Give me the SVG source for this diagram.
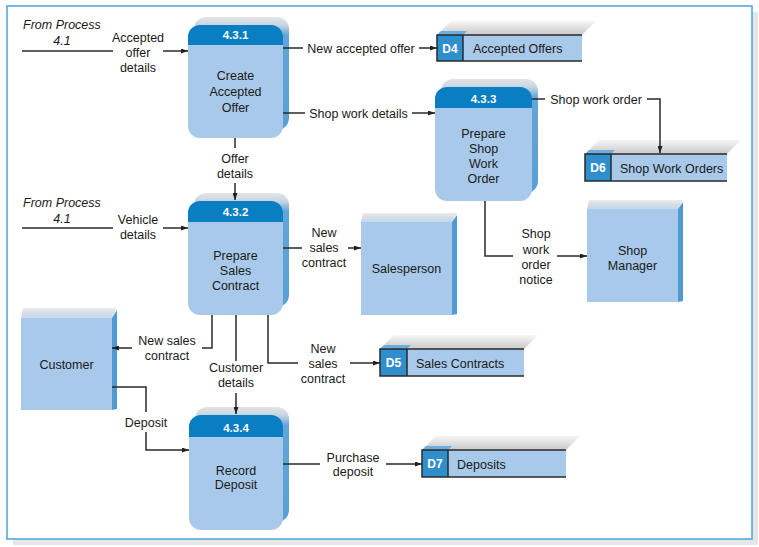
<svg xmlns="http://www.w3.org/2000/svg" width="759" height="547" viewBox="0 0 759 547">
<defs>
<linearGradient id="pside" x1="0" y1="0" x2="0" y2="1">
<stop offset="0" stop-color="#e4e4e4"/>
<stop offset="0.07" stop-color="#c9d6e2"/>
<stop offset="0.16" stop-color="#62a5d8"/>
<stop offset="1" stop-color="#5a9fd5"/>
</linearGradient>
<linearGradient id="etop" x1="0" y1="0" x2="0" y2="1">
<stop offset="0" stop-color="#ececec"/>
<stop offset="0.5" stop-color="#d6dde4"/>
<stop offset="1" stop-color="#c3daee"/>
</linearGradient>
<linearGradient id="stop" x1="0" y1="0" x2="0" y2="1">
<stop offset="0" stop-color="#f6f6f6"/>
<stop offset="1" stop-color="#c9c9c9"/>
</linearGradient>
<marker id="arr" viewBox="0 0 7 5" refX="7" refY="2.5" markerWidth="7" markerHeight="5" markerUnits="userSpaceOnUse" orient="auto">
<path d="M0,0 L7,2.5 L0,5 Z" fill="#222"/>
</marker>
</defs>
<style>
text{font-family:"Liberation Sans",Arial,sans-serif;font-size:12.5px;fill:#1a1a1a}
.c{text-anchor:middle}
.it{font-style:italic}
.hd{font-weight:bold;fill:#fff;font-size:11.5px;text-anchor:middle}
.body{fill:#a8c9e9}
.head{fill:#0a7ec2}
.pback{fill:url(#pside)}
.etop{fill:url(#etop)}
.eside{fill:#4f9ad3}
.stop{fill:url(#stop)}
.scell{fill:#2f8fcd}
.sline{fill:none;stroke:#2a2a2a;stroke-width:1.5}
.conn path{fill:none;stroke:#2a2a2a;stroke-width:1.5}
.conn path.a{marker-end:url(#arr)}
</style>
<rect width="759" height="547" fill="#fff"/>
<rect x="13" y="12" width="745" height="533" fill="#e6e6e6"/>
<rect x="7" y="6" width="745" height="533" fill="#fff" stroke="#4aa3dc" stroke-width="1.5"/>

<g id="p431">
<rect class="pback" x="194" y="17" width="95" height="113" rx="12"/>
<rect class="body" x="188" y="25" width="95" height="113" rx="12"/>
<path class="head" d="M188,45 V37 A12,12 0 0 1 200,25 H271 A12,12 0 0 1 283,37 V45 Z"/>
<text class="hd" x="235.5" y="39">4.3.1</text>
<text class="c" x="235.5" y="79.5">Create</text>
<text class="c" x="235.5" y="95.5">Accepted</text>
<text class="c" x="235.5" y="111.5">Offer</text>
</g>

<g id="p432">
<rect class="pback" x="194" y="193" width="95" height="114" rx="12"/>
<rect class="body" x="188" y="201" width="95" height="114" rx="12"/>
<path class="head" d="M188,222 V213 A12,12 0 0 1 200,201 H271 A12,12 0 0 1 283,213 V222 Z"/>
<text class="hd" x="235.5" y="216">4.3.2</text>
<text class="c" x="235.5" y="259.5">Prepare</text>
<text class="c" x="235.5" y="274.5">Sales</text>
<text class="c" x="235.5" y="289.5">Contract</text>
</g>

<g id="p433">
<rect class="pback" x="441" y="79" width="97" height="114" rx="12"/>
<rect class="body" x="435" y="87" width="97" height="114" rx="12"/>
<path class="head" d="M435,108 V99 A12,12 0 0 1 447,87 H520 A12,12 0 0 1 532,99 V108 Z"/>
<text class="hd" x="483.5" y="103">4.3.3</text>
<text class="c" x="483.5" y="137.5">Prepare</text>
<text class="c" x="483.5" y="152.5">Shop</text>
<text class="c" x="483.5" y="167.5">Work</text>
<text class="c" x="483.5" y="182.5">Order</text>
</g>

<g id="p434">
<rect class="pback" x="195" y="407" width="94" height="115" rx="12"/>
<rect class="body" x="189" y="415" width="94" height="115" rx="12"/>
<path class="head" d="M189,437 V427 A12,12 0 0 1 201,415 H271 A12,12 0 0 1 283,427 V437 Z"/>
<text class="hd" x="236" y="432">4.3.4</text>
<text class="c" x="236" y="474.5">Record</text>
<text class="c" x="236" y="488.5">Deposit</text>
</g>

<g id="customer">
<polygon class="etop" points="23,308 117,308 112,318 21,318"/>
<polygon class="eside" points="112,318 117,310 117,409 112,410"/>
<rect class="body" x="21" y="318" width="91" height="92"/>
<text class="c" x="66.5" y="369">Customer</text>
</g>

<g id="salesperson">
<polygon class="etop" points="363,213 457,213 452,222 361,222"/>
<polygon class="eside" points="452,222 457,215 457,314 452,315"/>
<rect class="body" x="361" y="222" width="91" height="93"/>
<text class="c" x="406.5" y="272.5">Salesperson</text>
</g>

<g id="shopmanager">
<polygon class="etop" points="589,200 683,200 678,209 587,209"/>
<polygon class="eside" points="678,209 683,202 683,301 678,302"/>
<rect class="body" x="587" y="209" width="91" height="93"/>
<text class="c" x="632.5" y="254.5">Shop</text>
<text class="c" x="632.5" y="269.5">Manager</text>
</g>

<g id="d4">
<polygon class="stop" points="437,35 451,21 596,21 582,35"/>
<polygon fill="#6aaee0" points="437,35 441,31 467,31 463,35"/>
<rect class="body" x="437" y="35" width="145" height="26"/>
<rect class="scell" x="437" y="35" width="26" height="26"/>
<path class="sline" d="M582,35 H437 V61 H582 M463,35 V61"/>
<text class="hd" x="450" y="52.5" style="font-size:12px">D4</text>
<text x="473" y="53">Accepted Offers</text>
</g>

<g id="d6">
<polygon class="stop" points="585,154 599,140 741,140 727,154"/>
<polygon fill="#6aaee0" points="585,154 589,150 615,150 611,154"/>
<rect class="body" x="585" y="154" width="142" height="27"/>
<rect class="scell" x="585" y="154" width="26" height="27"/>
<path class="sline" d="M727,154 H585 V181 H727 M611,154 V181"/>
<text class="hd" x="598" y="172" style="font-size:12px">D6</text>
<text x="620" y="172.5">Shop Work Orders</text>
</g>

<g id="d5">
<polygon class="stop" points="380,349 394,335 538,335 524,349"/>
<polygon fill="#6aaee0" points="380,349 384,345 411,345 407,349"/>
<rect class="body" x="380" y="349" width="144" height="27"/>
<rect class="scell" x="380" y="349" width="27" height="27"/>
<path class="sline" d="M524,349 H380 V376 H524 M407,349 V376"/>
<text class="hd" x="393.5" y="367" style="font-size:12px">D5</text>
<text x="416" y="367.5">Sales Contracts</text>
</g>

<g id="d7">
<polygon class="stop" points="422,450 436,436 580,436 566,450"/>
<polygon fill="#6aaee0" points="422,450 426,446 452,446 448,450"/>
<rect class="body" x="422" y="450" width="144" height="27"/>
<rect class="scell" x="422" y="450" width="26" height="27"/>
<path class="sline" d="M566,450 H422 V477 H566 M448,450 V477"/>
<text class="hd" x="435" y="468" style="font-size:12px">D7</text>
<text x="457" y="468.5">Deposits</text>
</g>

<g id="connectors" class="conn">
<path d="M22,51 H113"/>
<path class="a" d="M163,51 H188"/>
<path d="M22,228 H113"/>
<path class="a" d="M163,228 H188"/>
<path d="M283,48 H303"/>
<path class="a" d="M419,48 H437"/>
<path d="M283,113 H305"/>
<path class="a" d="M412,113 H435"/>
<path d="M235,138 V148"/>
<path class="a" d="M235,183 V200"/>
<path d="M532,99 H545"/>
<path class="a" d="M647,99 H660 V153"/>
<path d="M485,201 V256 H513"/>
<path class="a" d="M557,256 H587"/>
<path d="M283,248 H302"/>
<path class="a" d="M348,248 H361"/>
<path d="M212,315 V348 H202"/>
<path class="a" d="M132,348 H112"/>
<path d="M236,315 V361"/>
<path class="a" d="M236,393 V414"/>
<path d="M268,315 V363 H298"/>
<path class="a" d="M350,363 H380"/>
<path d="M112,387 H146 V412"/>
<path class="a" d="M146,432 V450 H189"/>
<path d="M283,464 H320"/>
<path class="a" d="M386,464 H422"/>
</g>

<g id="labels">
<text class="it" x="23" y="28.5">From Process</text>
<text class="it c" x="62" y="44.5">4.1</text>
<text class="it" x="23" y="206.5">From Process</text>
<text class="it c" x="62" y="222.5">4.1</text>
<text class="c" x="138" y="41.5">Accepted</text>
<text class="c" x="138" y="56.5">offer</text>
<text class="c" x="138" y="71.5">details</text>
<text class="c" x="138" y="223.5">Vehicle</text>
<text class="c" x="138" y="238.5">details</text>
<text class="c" x="361" y="52.5">New accepted offer</text>
<text class="c" x="358.5" y="117.5">Shop work details</text>
<text class="c" x="235" y="162.5">Offer</text>
<text class="c" x="235" y="177.5">details</text>
<text class="c" x="596" y="103.5">Shop work order</text>
<text class="c" x="536" y="237.5">Shop</text>
<text class="c" x="536" y="253.5">work</text>
<text class="c" x="536" y="268.5">order</text>
<text class="c" x="536" y="283.5">notice</text>
<text class="c" x="324" y="236.5">New</text>
<text class="c" x="324" y="251.5">sales</text>
<text class="c" x="324" y="266.5">contract</text>
<text class="c" x="167" y="344.5">New sales</text>
<text class="c" x="167" y="359.5">contract</text>
<text class="c" x="236" y="371.5">Customer</text>
<text class="c" x="236" y="386.5">details</text>
<text class="c" x="323" y="352.5">New</text>
<text class="c" x="323" y="367.5">sales</text>
<text class="c" x="323" y="382.5">contract</text>
<text class="c" x="146" y="426.5">Deposit</text>
<text class="c" x="353" y="461.5">Purchase</text>
<text class="c" x="353" y="475.5">deposit</text>
</g>
</svg>
